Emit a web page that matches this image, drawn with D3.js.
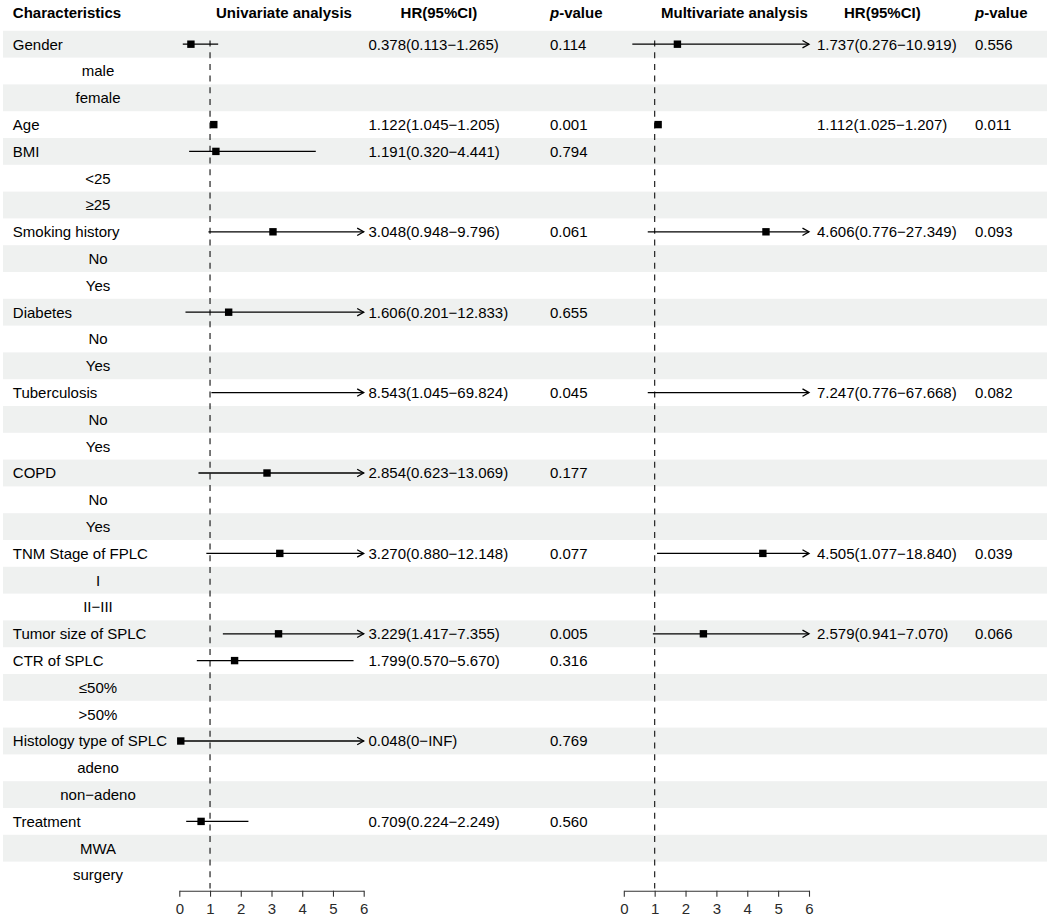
<!DOCTYPE html>
<html>
<head>
<meta charset="utf-8">
<script src="https://cdn.jsdelivr.net/npm/d3@7"></script>
<style>
  body { margin: 0; background: #fff; }
  svg { display: block; font-family: "Liberation Sans", Arial, sans-serif; }
</style>
</head>
<body>
<svg id="svg" width="1052" height="922"></svg>
<script>
// --- DATA ---
const variables = ["Gender", "Age", "BMI", "Smoking history", "Diabetes", "Tuberculosis", "COPD",
  "TNM Stage of FPLC", "Tumor size of SPLC", "CTR of SPLC", "Histology type of SPLC", "Treatment"];
const levels = [["male", "female"], [], ["<25", "≥25"], ["No", "Yes"], ["No", "Yes"], ["No", "Yes"],
  ["No", "Yes"], ["I", "II−III"], [], ["≤50%", ">50%"], ["adeno", "non−adeno"], ["MWA", "surgery"]];

const uniHR   = [0.378, 1.122, 1.191, 3.048, 1.606, 8.543, 2.854, 3.270, 3.229, 1.799, 0.048, 0.709];
const uniLow  = [0.113, 1.045, 0.320, 0.948, 0.201, 1.045, 0.623, 0.880, 1.417, 0.570, 0, 0.224];
const uniHigh = [1.265, 1.205, 4.441, 9.796, 12.833, 69.824, 13.069, 12.148, 7.355, 5.670, Infinity, 2.249];
const uniP    = [0.114, 0.001, 0.794, 0.061, 0.655, 0.045, 0.177, 0.077, 0.005, 0.316, 0.769, 0.560];

const multiHR   = [1.737, 1.112, null, 4.606, null, 7.247, null, 4.505, 2.579, null, null, null];
const multiLow  = [0.276, 1.025, null, 0.776, null, 0.776, null, 1.077, 0.941, null, null, null];
const multiHigh = [10.919, 1.207, null, 27.349, null, 67.668, null, 18.840, 7.070, null, null, null];
const multiP    = [0.556, 0.011, null, 0.093, null, 0.082, null, 0.039, 0.066, null, null, null];

const axisTicks = [0, 1, 2, 3, 4, 5, 6];

// --- LAYOUT ---
const FONT = 15;
const ROW_TOP = 30.8, ROW_H = 26.8;
const AXIS_Y = 890.7;
const panels = [
  { title: "Univariate analysis", titleX: 216, range: [179.3, 363.7], hrX: 368.5, hrHeadX: 400.6, pX: 550,
    hr: uniHR, low: uniLow, high: uniHigh, p: uniP },
  { title: "Multivariate analysis", titleX: 661, range: [623.8, 809], hrX: 817, hrHeadX: 844, pX: 975,
    hr: multiHR, low: multiLow, high: multiHigh, p: multiP }
];

// build table rows
const rows = [];
variables.forEach((v, i) => {
  rows.push({ label: v, sub: false, vi: i });
  levels[i].forEach(l => rows.push({ label: l, sub: true, vi: null }));
});

const y = d3.scaleBand().domain(d3.range(rows.length))
  .range([ROW_TOP, ROW_TOP + rows.length * ROW_H]);
const yc = i => y(i) + y.bandwidth() / 2;

const fmt = v => v === Infinity ? "INF" : v === 0 ? "0" : v.toFixed(3);

const svg = d3.select("#svg");

// zebra bands
svg.append("g").selectAll("rect").data(rows).join("rect")
  .attr("x", 3).attr("width", 1044)
  .attr("y", (d, i) => y(i)).attr("height", y.bandwidth())
  .attr("fill", (d, i) => i % 2 === 0 ? "#eff1f0" : "none");

// headers
const head = svg.append("g").attr("font-weight", "bold").attr("font-size", FONT).attr("fill", "#000");
head.append("text").attr("x", 12.8).attr("y", 18).text("Characteristics");
panels.forEach(pn => {
  head.append("text").attr("x", pn.titleX).attr("y", 18).text(pn.title);
  head.append("text").attr("x", pn.hrHeadX).attr("y", 18).text("HR(95%CI)");
  const pt = head.append("text").attr("x", pn.pX).attr("y", 18);
  pt.append("tspan").attr("font-style", "italic").text("p");
  pt.append("tspan").text("-value");
});

// row labels
svg.append("g").attr("font-size", FONT).attr("fill", "#000")
  .selectAll("text").data(rows).join("text")
  .attr("x", d => d.sub ? 98 : 12.8)
  .attr("text-anchor", d => d.sub ? "middle" : "start")
  .attr("y", (d, i) => yc(i)).attr("dy", "0.36em")
  .text(d => d.label);

// panels
panels.forEach(pn => {
  const x = d3.scaleLinear().domain([0, 6]).range(pn.range);
  const g = svg.append("g");
  const data = rows.map((r, i) => ({ ...r, row: i }))
    .filter(r => !r.sub && pn.hr[r.vi] != null)
    .map(r => ({ row: r.row, hr: pn.hr[r.vi], low: pn.low[r.vi], high: pn.high[r.vi], p: pn.p[r.vi] }));

  // reference line at HR = 1
  g.append("line")
    .attr("x1", x(1)).attr("x2", x(1))
    .attr("y1", 40.5).attr("y2", y(rows.length - 1) + y.bandwidth())
    .attr("stroke", "#222").attr("stroke-width", 1.2)
    .attr("stroke-dasharray", "6,5.7");

  // CI lines
  g.selectAll(".ci").data(data).join("line")
    .attr("class", "ci")
    .attr("x1", d => x(Math.max(0, d.low)))
    .attr("x2", d => x(Math.min(6, d.high)))
    .attr("y1", d => yc(d.row)).attr("y2", d => yc(d.row))
    .attr("stroke", "#000").attr("stroke-width", 1.3);

  // arrowheads where CI passes the axis limit
  g.selectAll(".arrow").data(data.filter(d => d.high > 6)).join("path")
    .attr("class", "arrow")
    .attr("d", d => {
      const tx = x(6), ty = yc(d.row);
      return `M${tx - 6.5},${ty - 3.7}L${tx},${ty}L${tx - 6.5},${ty + 3.7}`;
    })
    .attr("fill", "none").attr("stroke", "#000").attr("stroke-width", 1.3);

  // point estimates
  g.selectAll(".pt").data(data.filter(d => d.hr >= 0 && d.hr <= 6)).join("rect")
    .attr("class", "pt")
    .attr("x", d => x(d.hr) - 3.7).attr("y", d => yc(d.row) - 3.7)
    .attr("width", 7.4).attr("height", 7.4)
    .attr("fill", "#000");

  // HR text and p text
  g.selectAll(".hrt").data(data).join("text")
    .attr("class", "hrt")
    .attr("x", pn.hrX).attr("y", d => yc(d.row)).attr("dy", "0.36em")
    .attr("font-size", FONT)
    .text(d => `${fmt(d.hr)}(${fmt(d.low)}−${fmt(d.high)})`);
  g.selectAll(".pv").data(data).join("text")
    .attr("class", "pv")
    .attr("x", pn.pX).attr("y", d => yc(d.row)).attr("dy", "0.36em")
    .attr("font-size", FONT)
    .text(d => d.p.toFixed(3));

  // x axis
  const ax = svg.append("g").attr("transform", `translate(0,${AXIS_Y})`)
    .call(d3.axisBottom(x).tickValues(axisTicks).tickFormat(d3.format("d"))
      .tickSize(6).tickSizeOuter(0).tickPadding(6.5));
  ax.attr("font-size", null).attr("font-family", null);
  ax.select(".domain").attr("stroke", "#333").attr("stroke-width", 1.1);
  ax.selectAll(".tick line").attr("stroke", "#333").attr("stroke-width", 1.1);
  ax.selectAll(".tick text").attr("fill", "#2a2a2a")
    .style("font-size", "15px")
    .style("font-family", "'Liberation Sans', Arial, sans-serif");
});
</script>
</body>
</html>
